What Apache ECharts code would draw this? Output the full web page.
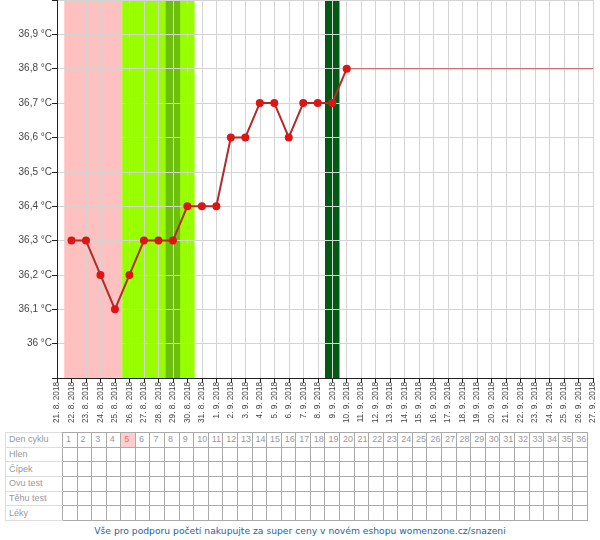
<!DOCTYPE html>
<html><head><meta charset="utf-8">
<script src="https://cdn.jsdelivr.net/npm/echarts@6/dist/echarts.min.js"></script>
<style>
html,body{margin:0;padding:0;background:#fff;width:600px;height:540px;overflow:hidden;}
#chart{position:absolute;left:0;top:0;width:600px;height:432px;}
#tbl{position:absolute;left:5px;top:432px;border-collapse:collapse;font-family:"Liberation Sans",Arial,sans-serif;font-size:9px;color:#999;table-layout:fixed;border:1px solid #ddd;}
#tbl td{border:1px solid #aaa;height:13.7px;padding:0 0 0 3px;line-height:13px;overflow:hidden;white-space:nowrap;}
#tbl td.h{border-left:1px solid #ddd;border-top:1px solid #ddd;border-bottom:1px solid #ddd;width:54px;}
#tbl td.today{background:#ffcfcf;color:#e07070;}
#foot{position:absolute;left:0;top:525px;width:600px;text-align:center;font-family:"DejaVu Sans",Verdana,sans-serif;font-size:9.2px;color:#2a5f9e;}
</style>
</head><body>
<div id="chart"></div>
<table id="tbl"></table>
<div id="foot">Vše pro podporu početí nakupujte za super ceny v novém eshopu womenzone.cz/snazeni</div>
<script>
// dates (x categories)
var dates = ["21. 8. 2018","22. 8. 2018","23. 8. 2018","24. 8. 2018","25. 8. 2018","26. 8. 2018","27. 8. 2018","28. 8. 2018","29. 8. 2018","30. 8. 2018","31. 8. 2018","1. 9. 2018","2. 9. 2018","3. 9. 2018","4. 9. 2018","5. 9. 2018","6. 9. 2018","7. 9. 2018","8. 9. 2018","9. 9. 2018","10. 9. 2018","11. 9. 2018","12. 9. 2018","13. 9. 2018","14. 9. 2018","15. 9. 2018","16. 9. 2018","17. 9. 2018","18. 9. 2018","19. 9. 2018","20. 9. 2018","21. 9. 2018","22. 9. 2018","23. 9. 2018","24. 9. 2018","25. 9. 2018","26. 9. 2018","27. 9. 2018"];
// temperatures for cycle days 1..20 (cycle day 1 = 22. 8. 2018)
var temps = [36.3,36.3,36.2,36.1,36.2,36.3,36.3,36.3,36.4,36.4,36.4,36.6,36.6,36.7,36.7,36.6,36.7,36.7,36.7,36.8];
var firstCycleIndex = 1;
// y ticks
var yTicks = [36.0,36.1,36.2,36.3,36.4,36.5,36.6,36.7,36.8,36.9];
var yMin = 35.9, yMax = 37.0;
// highlighted cycle-day ranges
var menstruationDays = [1,4];
var fertileDays = [5,9];
var peakDays = [8,8];
var ovulationDays = [19,19];
// table
var rowLabels = ["Den cyklu","Hlen","Čípek","Ovu test","Těhu test","Léky"];
var cycleDays = []; for (var d=1; d<=36; d++) cycleDays.push(d);
var todayCycleDay = 5;

function band(r, color){
  return [{xAxis: r[0]+firstCycleIndex-1-0.5, itemStyle:{color:color}}, {xAxis: r[1]+firstCycleIndex-1+0.5}];
}
var lineData = temps.map(function(t,i){return [i+firstCycleIndex, t];});
var lastIdx = temps.length-1+firstCycleIndex;
var extData = [[lastIdx, temps[temps.length-1]], [dates.length-1, temps[temps.length-1]]];

var chart = echarts.init(document.getElementById('chart'), null, {renderer:'canvas'});
chart.setOption({
  animation:false,
  grid:{left:57, right:7, top:0, bottom:54, containLabel:false, outerBoundsMode:'none'},
  xAxis:{type:'value', min:0, max:dates.length-1, interval:1, z:1.5,
    axisLine:{lineStyle:{color:'#222', width:1}},
    axisTick:{length:5, lineStyle:{color:'#222'}},
    axisLabel:{rotate:90, fontSize:8.2, color:'#444', fontFamily:'"Liberation Sans", Arial, sans-serif', margin:4,
      formatter:function(v){return dates[Math.round(v)] || '';}},
    splitLine:{show:true, lineStyle:{color:'#d4d4d4', width:1}}
  },
  yAxis:{type:'value', min:yMin, max:yMax, interval:0.1, z:1.5,
    axisLine:{show:true, lineStyle:{color:'#222'}},
    axisTick:{show:true, length:5, lineStyle:{color:'#222'}},
    axisLabel:{fontSize:10, color:'#444', fontFamily:'"Liberation Sans", Arial, sans-serif', margin:5,
      formatter:function(v){
        var r = Math.round(v*10)/10;
        var ok = yTicks.some(function(t){return Math.abs(t-r)<1e-6;});
        if(!ok) return '';
        var s = (Math.abs(r-Math.round(r))<1e-6) ? String(Math.round(r)) : r.toFixed(1).replace('.',',');
        return s + ' °C';
      }},
    splitLine:{show:true, lineStyle:{color:'#d4d4d4', width:1}}
  },
  series:[
    {type:'line', data:[], z:1, silent:true,
     markArea:{silent:true, z:1, data:[
       band(menstruationDays,'#ffc0c0'),
       band(fertileDays,'#99ff00'),
       band(peakDays,'#6cbf0c'),
       band(ovulationDays,'#005a14')
     ]}},
    {type:'line', data:extData, z:2, symbol:'none', lineStyle:{color:'#d05050', width:1}},
    {type:'line', data:lineData, z:3, symbol:'circle', symbolSize:8,
     lineStyle:{color:'#b22a2a', width:2},
     itemStyle:{color:'#dd1515', borderWidth:0}}
  ]
});

// table
var tbl = document.getElementById('tbl');
var colW = 14.58;
var html = '<colgroup><col style="width:57px">';
cycleDays.forEach(function(){ html += '<col style="width:'+colW+'px">'; });
html += '</colgroup>';
rowLabels.forEach(function(lbl, ri){
  html += '<tr><td class="h">'+lbl+'</td>';
  cycleDays.forEach(function(d){
    var cls = (ri===0 && d===todayCycleDay) ? ' class="today"' : '';
    html += '<td'+cls+'>'+(ri===0 ? d : '')+'</td>';
  });
  html += '</tr>';
});
tbl.innerHTML = html;
tbl.style.width = (57 + 36*colW) + 'px';
</script>
</body></html>
